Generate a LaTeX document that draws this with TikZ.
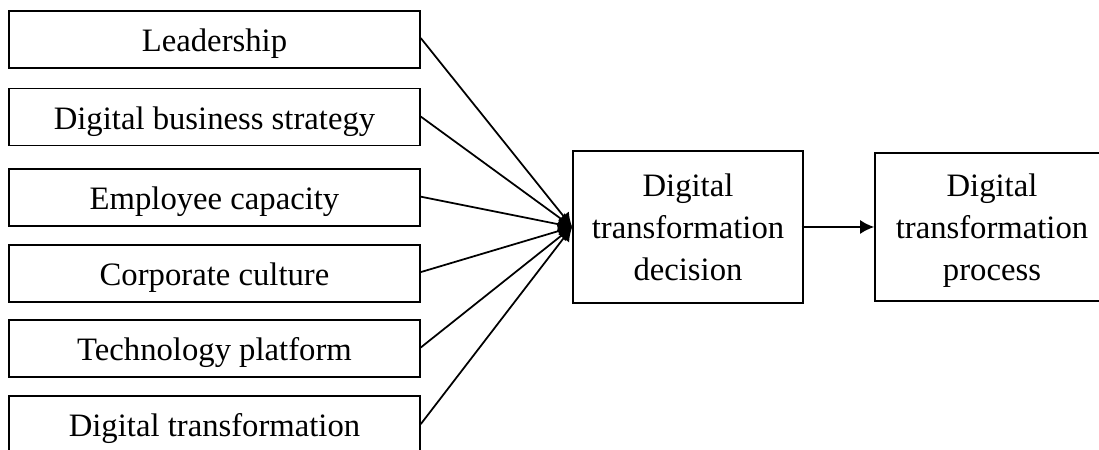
\documentclass[tikz,border=0pt]{standalone}
\usepackage{fontspec}
\setmainfont{Liberation Serif}
\usetikzlibrary{arrows, arrows.meta}

\begin{document}
\begin{tikzpicture}[scale=0.2]
\tikzstyle{every node}+=[inner sep=0pt]
\tikzstyle{factor}=[draw=black, line width=0.9pt, minimum width=8.22cm, minimum height=1.14cm, text height=0.6cm, text depth=0.1cm, font=\fontsize{18.6}{23.9}\selectfont]
\tikzstyle{stage}=[draw=black, line width=0.9pt, align=center, font=\fontsize{18.6}{23.9}\selectfont]
\tikzstyle{link}=[black, line width=1pt, -{Latex[length=8pt,width=8pt]}]
\useasboundingbox (0,0) rectangle (109.9,-45);
\draw (21.45,-3.95) node [factor] (lead) {Leadership};
\draw (21.45,-11.7) node [factor] (strat) {Digital business strategy};
\draw (21.45,-19.75) node [factor] (staff) {Employee capacity};
\draw (21.45,-27.35) node [factor] (culture) {Corporate culture};
\draw (21.45,-34.85) node [factor] (tech) {Technology platform};
\draw (21.45,-42.45) node [factor] (dtf) {Digital transformation};
\draw (68.8,-22.7) node [stage, minimum width=4.6cm, minimum height=3.04cm] (dec) {Digital\\transformation\\decision};
\draw (99.2,-22.7) node [stage, minimum width=4.68cm, minimum height=2.96cm] (proc) {Digital\\transformation\\\smash{process}};
\draw [link] ([yshift=0.14cm]lead.east) -- (dec.west);
\draw [link] ([yshift=0.04cm]strat.east) -- (dec.west);
\draw [link] ([yshift=0.08cm]staff.east) -- (dec.west);
\draw [link] ([yshift=0.14cm]culture.east) -- (dec.west);
\draw [link] ([yshift=0.1cm]tech.east) -- (dec.west);
\draw [link] ([yshift=0.04cm]dtf.east) -- (dec.west);
\draw [link] ([xshift=-0.22cm]dec.east) -- (proc.west);
\end{tikzpicture}
\end{document}
